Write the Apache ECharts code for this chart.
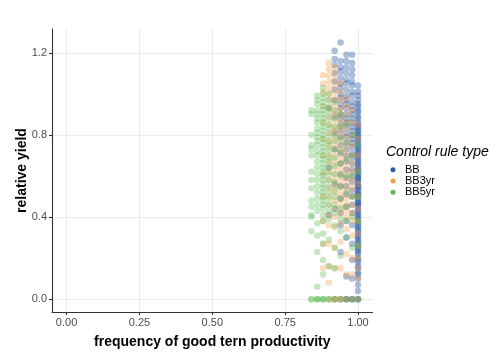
<!DOCTYPE html>
<html><head><meta charset="utf-8">
<script src="https://cdn.jsdelivr.net/npm/echarts@6/dist/echarts.min.js"></script>
<style>html,body{margin:0;padding:0;background:#fff}#c{width:504px;height:360px}</style>
</head><body><div id="c"></div>
<script>
const seriesNames = ['BB', 'BB3yr', 'BB5yr'];
const xColumns = [0.84, 0.86, 0.88, 0.90, 0.92, 0.94, 0.96, 0.98, 1.00];
const xTicks = [0, 0.25, 0.5, 0.75, 1.0];
const yTicks = [0, 0.4, 0.8, 1.2];

const bbY = [
  [],
  [],
  [],
  [0.93, 0.64, 0.41],
  [1.21, 1.17, 1.14, 1.10, 1.06, 1.02, 0.97, 0.89, 0.81, 0.73, 0.56, 0.44, 0.0],
  [1.25, 1.16, 1.13, 1.11, 1.08, 1.05, 1.03, 1.00, 0.98, 0.95, 0.93, 0.90, 0.88, 0.85, 0.82, 0.79, 0.75, 0.71, 0.66, 0.61, 0.55, 0.49, 0.42, 0.36, 0.23, 0.0],
  [1.19, 1.16, 1.13, 1.10, 1.07, 1.05, 1.02, 0.99, 0.97, 0.95, 0.93, 0.90, 0.88, 0.86, 0.84, 0.81, 0.79, 0.76, 0.73, 0.70, 0.67, 0.63, 0.59, 0.55, 0.51, 0.45, 0.38, 0.30, 0.11, 0.0, 0.0],
  [1.19, 1.15, 1.12, 1.09, 1.06, 1.04, 1.01, 0.99, 0.96, 0.94, 0.92, 0.90, 0.88, 0.86, 0.84, 0.82, 0.80, 0.78, 0.76, 0.74, 0.71, 0.69, 0.66, 0.63, 0.60, 0.57, 0.53, 0.50, 0.46, 0.42, 0.36, 0.27, 0.19, 0.10, 0.0, 0.0],
  [1.04, 1.01, 0.99, 0.97, 0.95, 0.94, 0.92, 0.91, 0.89, 0.88, 0.86, 0.85, 0.84, 0.83, 0.82, 0.81, 0.80, 0.79, 0.78, 0.77, 0.76, 0.75, 0.74, 0.73, 0.72, 0.71, 0.70, 0.69, 0.68, 0.67, 0.66, 0.65, 0.64, 0.63, 0.63, 0.62, 0.61, 0.60, 0.59, 0.59, 0.58, 0.57, 0.56, 0.55, 0.55, 0.54, 0.53, 0.52, 0.51, 0.51, 0.50, 0.49, 0.48, 0.47, 0.47, 0.46, 0.45, 0.44, 0.43, 0.42, 0.41, 0.40, 0.39, 0.38, 0.37, 0.36, 0.35, 0.34, 0.33, 0.32, 0.31, 0.30, 0.29, 0.28, 0.27, 0.26, 0.25, 0.24, 0.23, 0.22, 0.20, 0.19, 0.18, 0.16, 0.15, 0.13, 0.12, 0.10, 0.07, 0.04, 0.0, 0.0]
];
const bb3yrY = [
  [],
  [],
  [1.09, 1.05, 1.01, 0.94, 0.86, 0.78, 0.70, 0.61, 0.50, 0.38, 0.27, 0.15],
  [1.15, 1.12, 1.09, 1.06, 1.03, 1.00, 0.97, 0.93, 0.89, 0.85, 0.81, 0.77, 0.74, 0.70, 0.66, 0.62, 0.58, 0.54, 0.50, 0.46, 0.41, 0.36, 0.27, 0.16, 0.08, 0.0],
  [1.13, 1.10, 1.07, 1.04, 1.01, 0.98, 0.95, 0.92, 0.90, 0.87, 0.84, 0.82, 0.79, 0.76, 0.73, 0.70, 0.67, 0.64, 0.61, 0.58, 0.55, 0.52, 0.48, 0.44, 0.40, 0.35, 0.25, 0.15, 0.0, 0.0],
  [1.05, 1.01, 0.97, 0.93, 0.90, 0.87, 0.84, 0.81, 0.78, 0.75, 0.72, 0.69, 0.66, 0.63, 0.60, 0.57, 0.54, 0.51, 0.48, 0.45, 0.42, 0.37, 0.28, 0.15, 0.0, 0.0],
  [0.98, 0.94, 0.90, 0.86, 0.83, 0.79, 0.76, 0.73, 0.70, 0.67, 0.64, 0.61, 0.58, 0.55, 0.52, 0.49, 0.46, 0.43, 0.40, 0.34, 0.22, 0.12, 0.0],
  [0.92, 0.86, 0.80, 0.75, 0.70, 0.66, 0.62, 0.58, 0.54, 0.50, 0.46, 0.42, 0.38, 0.31, 0.20, 0.12, 0.0],
  [0.85, 0.78, 0.70, 0.63, 0.56, 0.50, 0.44, 0.38, 0.32, 0.26, 0.20, 0.15, 0.10, 0.0]
];
const bb5yrY = [
  [0.92, 0.90, 0.80, 0.75, 0.73, 0.70, 0.62, 0.58, 0.54, 0.48, 0.45, 0.41, 0.40, 0.33, 0.0, 0.0],
  [0.99, 0.97, 0.95, 0.92, 0.90, 0.88, 0.86, 0.83, 0.81, 0.79, 0.77, 0.75, 0.72, 0.70, 0.67, 0.64, 0.61, 0.58, 0.55, 0.52, 0.49, 0.46, 0.43, 0.37, 0.31, 0.23, 0.06, 0.0, 0.0, 0.0],
  [1.03, 1.00, 0.98, 0.96, 0.94, 0.92, 0.90, 0.88, 0.86, 0.84, 0.82, 0.80, 0.78, 0.76, 0.74, 0.72, 0.70, 0.68, 0.66, 0.64, 0.62, 0.60, 0.58, 0.56, 0.54, 0.52, 0.50, 0.48, 0.46, 0.44, 0.41, 0.38, 0.32, 0.27, 0.19, 0.12, 0.0, 0.0, 0.0],
  [1.00, 0.97, 0.94, 0.91, 0.88, 0.85, 0.83, 0.80, 0.77, 0.75, 0.72, 0.69, 0.67, 0.64, 0.61, 0.58, 0.55, 0.52, 0.49, 0.46, 0.43, 0.39, 0.29, 0.16, 0.0, 0.0],
  [0.96, 0.92, 0.88, 0.84, 0.80, 0.77, 0.73, 0.69, 0.65, 0.61, 0.57, 0.53, 0.50, 0.46, 0.42, 0.36, 0.25, 0.15, 0.0],
  [0.90, 0.84, 0.78, 0.72, 0.66, 0.60, 0.55, 0.49, 0.44, 0.39, 0.33, 0.21, 0.0],
  [0.85, 0.76, 0.68, 0.60, 0.52, 0.45, 0.38, 0.30, 0.0],
  [0.80, 0.70, 0.60, 0.50, 0.40, 0.25, 0.0],
  [0.75, 0.62, 0.50, 0.38, 0.26, 0.0]
];

const colors = ['#2B5AA6', '#F39B45', '#5DBB55'];
const opacities = [0.4, 0.35, 0.35];
const allY = [bbY, bb3yrY, bb5yrY];

function toPoints(cols) {
  const pts = [];
  cols.forEach((ys, i) => ys.forEach(y => pts.push([xColumns[i], y])));
  return pts;
}

const FONT = '"Liberation Sans", Arial, sans-serif';
const chart = echarts.init(document.getElementById('c'), null, {renderer: 'canvas'});
const axisLineStyle = {color: '#333', width: 1.1};
chart.setOption({
  animation: false,
  backgroundColor: '#fff',
  grid: {left: 52, right: 131.4, top: 29, bottom: 48},
  xAxis: {
    type: 'value', min: -0.05, max: 1.05,
    name: 'frequency of good tern productivity', nameLocation: 'middle', nameGap: 23,
    nameMoveOverlap: false,
    nameTextStyle: {fontFamily: FONT, fontSize: 14, fontWeight: 'bold', color: '#000'},
    axisLine: {show: true, onZero: false, lineStyle: axisLineStyle},
    axisTick: {show: true, length: 3, customValues: xTicks, lineStyle: axisLineStyle},
    axisLabel: {customValues: xTicks, formatter: v => v.toFixed(2), fontFamily: FONT, fontSize: 11, color: '#4D4D4D', margin: 5},
    splitLine: {show: true, lineStyle: {color: '#EBEBEB', width: 1}}
  },
  yAxis: {
    type: 'value', min: -0.0627, max: 1.3157,
    name: 'relative yield', nameLocation: 'middle', nameGap: 23,
    nameMoveOverlap: false,
    nameTextStyle: {fontFamily: FONT, fontSize: 14, fontWeight: 'bold', color: '#000'},
    axisLine: {show: true, onZero: false, lineStyle: axisLineStyle},
    axisTick: {show: true, length: 3, customValues: yTicks, lineStyle: axisLineStyle},
    axisLabel: {customValues: yTicks, formatter: v => v.toFixed(1), fontFamily: FONT, fontSize: 11, color: '#4D4D4D', margin: 5},
    splitLine: {show: true, lineStyle: {color: '#EBEBEB', width: 1}}
  },
  legend: {
    orient: 'vertical', left: 385.5, top: 159,
    icon: 'circle', itemWidth: 14, itemHeight: 5, itemGap: 0,
    textStyle: {fontFamily: FONT, fontSize: 11, color: '#000', lineHeight: 11.3, padding: 0},
    data: seriesNames.map((n, i) => ({name: n, itemStyle: {color: colors[i], opacity: 1}}))
  },
  graphic: [{
    type: 'text', left: 386, top: 145,
    style: {text: 'Control rule type', fontFamily: FONT, fontSize: 14, fontStyle: 'italic', fill: '#000'}
  }],
  series: seriesNames.map((n, i) => ({
    name: n, type: 'scatter', symbol: 'circle', symbolSize: 6.5,
    itemStyle: {color: colors[i], opacity: opacities[i]},
    emphasis: {disabled: true},
    data: toPoints(allY[i])
  }))
});
</script></body></html>
